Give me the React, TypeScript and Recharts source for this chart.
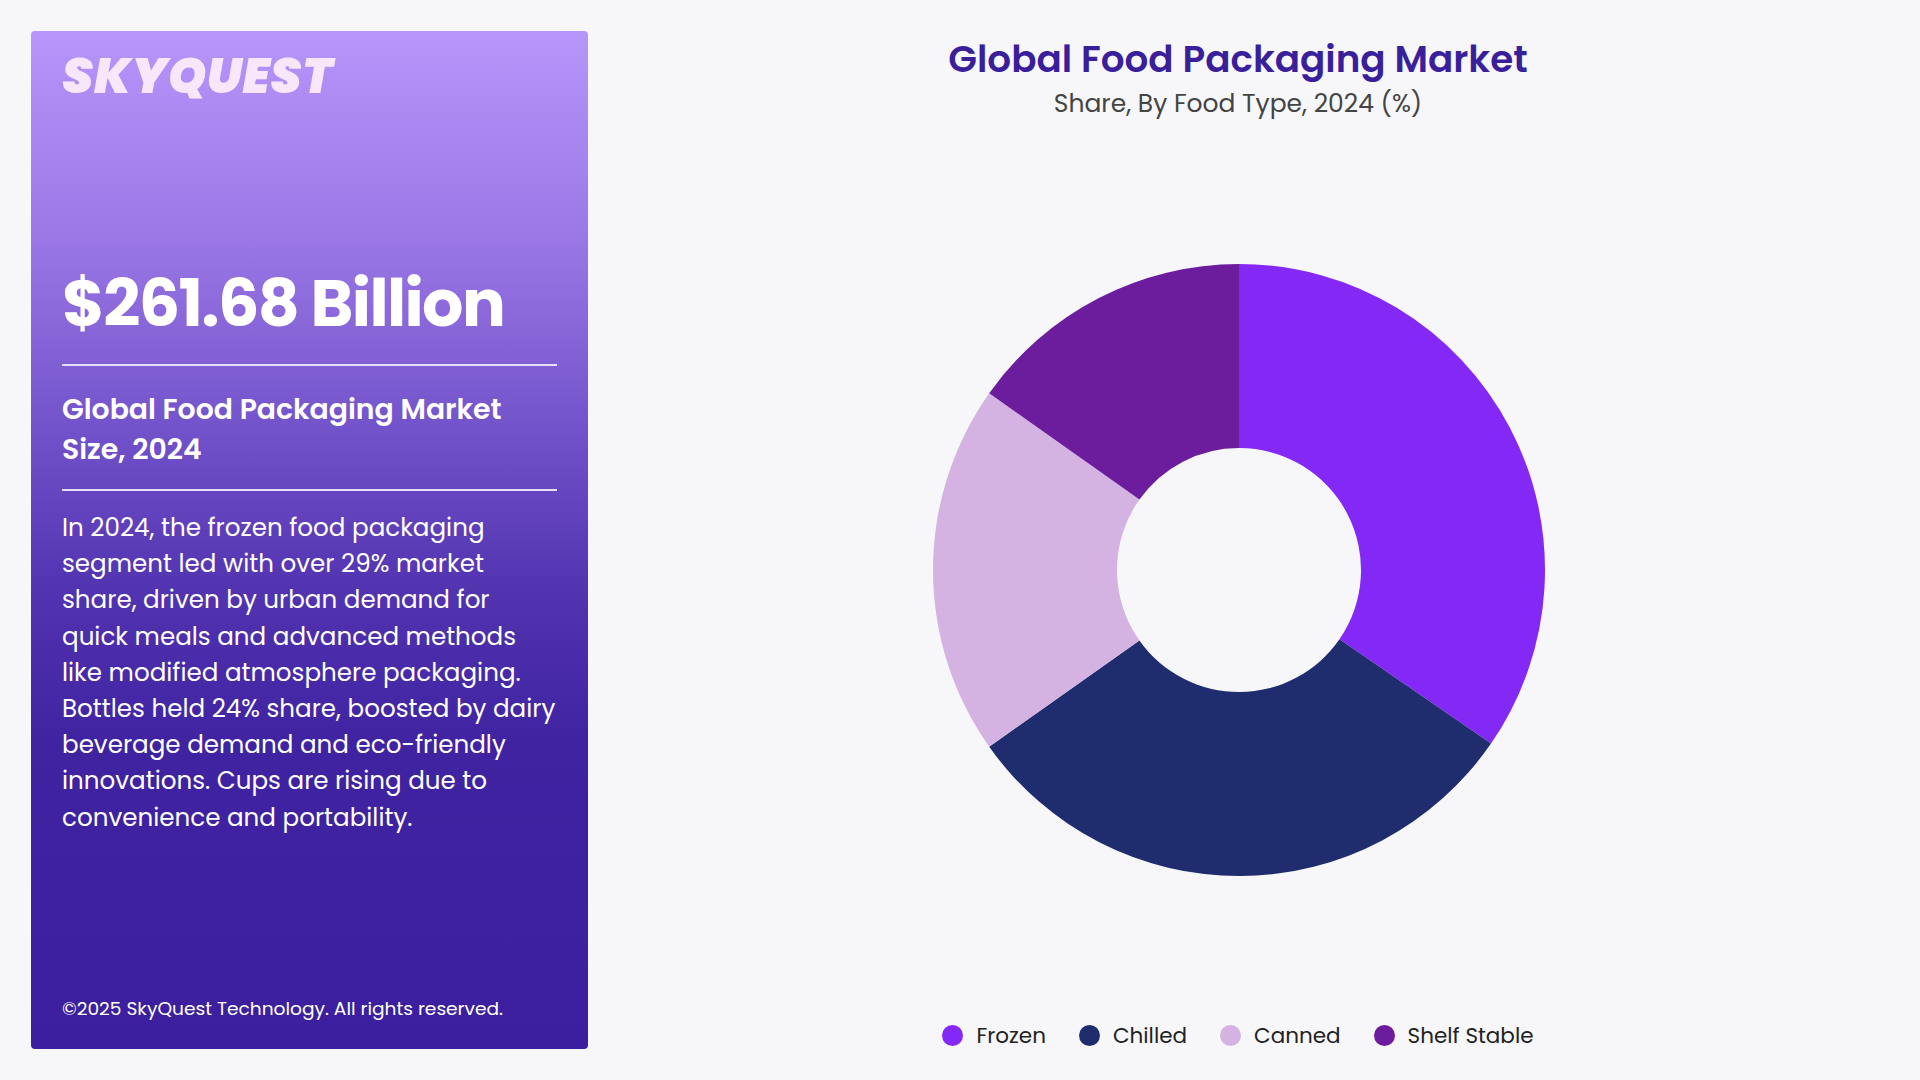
import { PieChart, Pie, Cell, Legend } from "recharts";

const FOOD_TYPES = ["Frozen", "Chilled", "Canned", "Shelf Stable"];
const SHARES = [34.6, 30.6, 19.6, 15.2];
const COLORS = ["#8428F5", "#1F2D6E", "#D4B3E3", "#6C1D9E"];

const data = FOOD_TYPES.map((name, i) => ({ name, value: SHARES[i] }));

const FONT = "Poppins, 'Open Sans', sans-serif";

function LegendRow() {
  return (
    <div style={{ display: "flex", justifyContent: "center", alignItems: "center", gap: 33 }}>
      {FOOD_TYPES.map((name, i) => (
        <div key={name} style={{ display: "flex", alignItems: "center" }}>
          <span
            style={{
              display: "inline-block",
              width: 21,
              height: 21,
              borderRadius: "50%",
              background: COLORS[i],
              marginRight: 13,
            }}
          />
          <span style={{ fontSize: 21.5, color: "#222", fontFamily: FONT }}>{name}</span>
        </div>
      ))}
    </div>
  );
}

export default function App() {
  return (
    <div
      style={{
        position: "absolute",
        top: 0,
        left: 0,
        width: 1920,
        height: 1080,
        background: "#F7F7FA",
        fontFamily: FONT,
        overflow: "hidden",
      }}
    >
      {/* left info card */}
      <div
        style={{
          position: "absolute",
          left: 31,
          top: 31,
          width: 557,
          height: 1018,
          borderRadius: 4,
          background:
            "linear-gradient(180deg, #B895FA 0%, #9B78E6 20%, #7555CC 38%, #5233B0 55%, #3F23A1 70%, #3B1F9E 100%)",
          color: "#fff",
        }}
      >
        <div
          style={{
            position: "absolute",
            left: 31,
            top: 9,
            fontSize: 49,
            fontWeight: 900,
            fontStyle: "italic",
            color: "#F8E6FA",
            letterSpacing: 0.5,
          }}
        >
          SKYQUEST
        </div>
        <div style={{ position: "absolute", left: 31, top: 224, fontSize: 65, fontWeight: 700, letterSpacing: -1.6 }}>
          $261.68 Billion
        </div>
        <div style={{ position: "absolute", left: 31, top: 333, width: 495, height: 2, background: "#E6DDF7" }} />
        <div
          style={{
            position: "absolute",
            left: 31,
            top: 358,
            fontSize: 28.3,
            fontWeight: 600,
            lineHeight: "40px",
            whiteSpace: "nowrap",
          }}
        >
          Global Food Packaging Market
          <br />
          Size, 2024
        </div>
        <div style={{ position: "absolute", left: 31, top: 458, width: 495, height: 2, background: "#E6DDF7" }} />
        <div
          style={{
            position: "absolute",
            left: 31,
            top: 479,
            fontSize: 24.6,
            lineHeight: "36.2px",
            whiteSpace: "nowrap",
          }}
        >
          In 2024, the frozen food packaging
          <br />
          segment led with over 29% market
          <br />
          share, driven by urban demand for
          <br />
          quick meals and advanced methods
          <br />
          like modified atmosphere packaging.
          <br />
          Bottles held 24% share, boosted by dairy
          <br />
          beverage demand and eco-friendly
          <br />
          innovations. Cups are rising due to
          <br />
          convenience and portability.
        </div>
        <div style={{ position: "absolute", left: 31, top: 963, fontSize: 18.6 }}>
          ©2025 SkyQuest Technology. All rights reserved.
        </div>
      </div>

      {/* titles */}
      <div
        style={{
          position: "absolute",
          left: 600,
          width: 1276,
          top: 31,
          textAlign: "center",
          fontSize: 37.3,
          fontWeight: 600,
          color: "#3A1F9A",
        }}
      >
        Global Food Packaging Market
      </div>
      <div
        style={{
          position: "absolute",
          left: 600,
          width: 1276,
          top: 85,
          textAlign: "center",
          fontSize: 25,
          color: "#444",
        }}
      >
        Share, By Food Type, 2024 (%)
      </div>

      <div style={{ position: "absolute", left: 600, top: 0 }}>
        <PieChart width={1276} height={1080} margin={{ top: 0, right: 0, bottom: 0, left: 0 }}>
          <Pie
            data={data}
            dataKey="value"
            nameKey="name"
            cx={639}
            cy={570}
            innerRadius={122}
            outerRadius={306}
            startAngle={90}
            endAngle={-270}
            stroke="none"
            isAnimationActive={false}
          >
            {data.map((d, i) => (
              <Cell key={d.name} fill={COLORS[i]} />
            ))}
          </Pie>
          <Legend
            verticalAlign="bottom"
            content={() => <LegendRow />}
            wrapperStyle={{ bottom: 28, left: 0, width: 1276 }}
          />
        </PieChart>
      </div>
    </div>
  );
}
